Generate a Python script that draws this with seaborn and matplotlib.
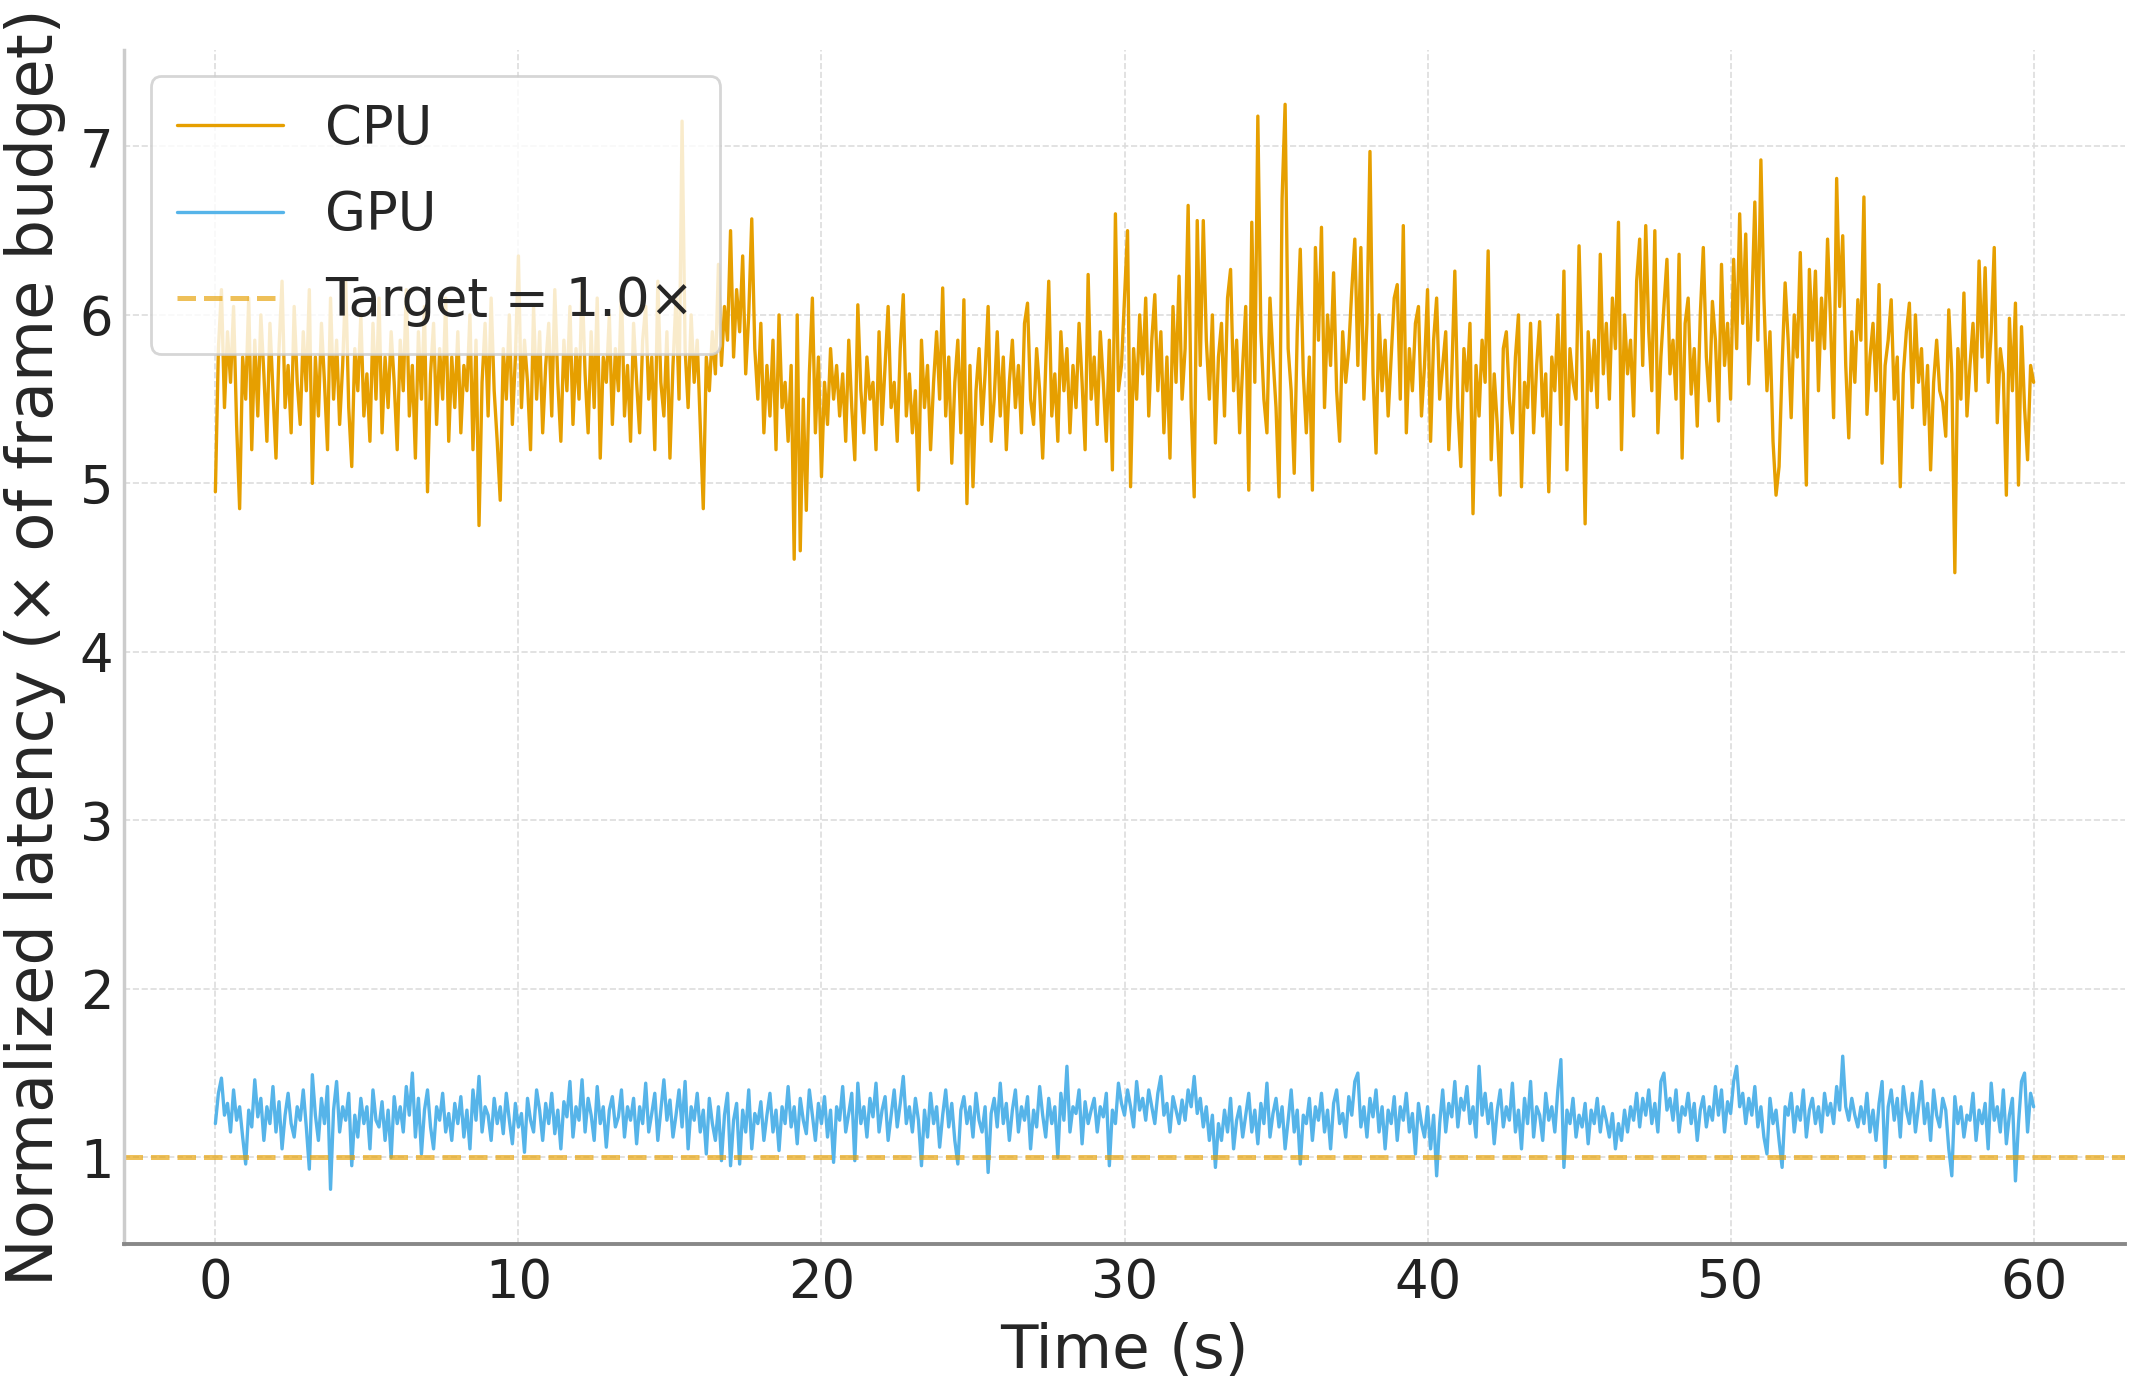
import numpy as np
import pandas as pd
import matplotlib
matplotlib.use("Agg")
import matplotlib.pyplot as plt
import seaborn as sns

# Normalized latency samples, 10 per second (0.0 .. 60.0 s)
cpu_latency = [
    4.95, 5.80, 6.15, 5.45, 5.90, 5.60, 6.05, 5.35, 4.85, 5.75,
    5.50, 6.10, 5.20, 5.85, 5.40, 6.00, 5.65, 5.25, 5.95, 5.55,
    5.15, 5.80, 6.20, 5.45, 5.70, 5.30, 6.05, 5.60, 5.35, 5.90,
    5.55, 6.15, 5.00, 5.75, 5.40, 5.95, 5.60, 5.20, 6.10, 5.50,
    5.85, 5.35, 5.70, 6.20, 5.45, 5.10, 5.80, 5.55, 6.00, 5.40,
    5.65, 5.25, 5.95, 5.50, 6.10, 5.30, 5.75, 5.45, 5.90, 5.60,
    5.20, 5.85, 5.55, 6.15, 5.40, 5.70, 5.15, 5.90, 5.50, 6.05,
    4.95, 5.65, 5.95, 5.35, 5.80, 5.50, 6.10, 5.25, 5.75, 5.45,
    5.90, 5.30, 5.70, 5.55, 6.00, 5.20, 5.85, 4.75, 5.60, 5.95,
    5.40, 6.10, 5.55, 5.25, 4.90, 5.80, 5.50, 6.00, 5.35, 5.75,
    6.35, 5.45, 5.85, 5.60, 5.20, 6.05, 5.50, 5.90, 5.30, 5.70,
    5.95, 5.40, 6.15, 5.60, 5.25, 5.85, 5.55, 6.05, 5.35, 5.80,
    5.50, 6.20, 5.65, 5.30, 5.90, 5.45, 6.10, 5.15, 5.75, 5.60,
    6.00, 5.35, 5.80, 5.55, 6.15, 5.40, 5.70, 5.25, 5.95, 5.60,
    5.30, 5.85, 6.05, 5.50, 5.75, 5.20, 6.20, 5.60, 5.40, 5.90,
    5.15, 5.70, 6.10, 5.50, 7.15, 5.80, 5.45, 6.00, 5.60, 5.85,
    5.35, 4.85, 5.75, 5.55, 5.90, 5.65, 6.30, 5.70, 6.05, 5.85,
    6.50, 5.75, 6.15, 5.90, 6.35, 5.65, 6.00, 6.57, 5.80, 5.50,
    5.95, 5.30, 5.70, 5.40, 5.85, 5.20, 6.00, 5.45, 5.60, 5.25,
    5.70, 4.55, 6.00, 4.60, 5.50, 4.84, 5.65, 6.10, 5.30, 5.75,
    5.04, 5.60, 5.35, 5.80, 5.50, 5.70, 5.40, 5.65, 5.25, 5.85,
    5.45, 5.14, 6.06, 5.55, 5.30, 5.75, 5.50, 5.60, 5.20, 5.90,
    5.35, 5.70, 6.05, 5.45, 5.60, 5.25, 5.80, 6.12, 5.40, 5.65,
    5.30, 5.55, 4.96, 5.85, 5.45, 5.70, 5.20, 5.60, 5.90, 5.50,
    6.16, 5.40, 5.75, 5.12, 5.60, 5.85, 5.30, 6.09, 4.88, 5.70,
    4.98, 5.55, 5.80, 5.35, 5.65, 6.05, 5.25, 5.50, 5.90, 5.40,
    5.75, 5.20, 5.60, 5.85, 5.45, 5.70, 5.30, 5.95, 6.07, 5.50,
    5.35, 5.80, 5.55, 5.15, 5.70, 6.20, 5.40, 5.65, 5.25, 5.90,
    5.55, 5.80, 5.30, 5.70, 5.45, 5.95, 5.60, 5.20, 6.24, 5.50,
    5.75, 5.35, 5.90, 5.60, 5.25, 5.85, 5.08, 6.60, 5.55, 5.70,
    6.10, 6.50, 4.98, 5.80, 5.50, 6.00, 5.65, 6.10, 5.40, 5.85,
    6.12, 5.55, 5.90, 5.30, 5.75, 5.15, 6.05, 5.60, 6.23, 5.50,
    5.80, 6.65, 5.45, 4.92, 6.56, 5.70, 6.56, 5.85, 5.50, 6.00,
    5.24, 5.75, 5.95, 5.40, 6.10, 6.27, 5.55, 5.85, 5.30, 5.70,
    6.05, 4.96, 6.55, 5.60, 7.18, 5.90, 5.50, 5.30, 6.10, 5.75,
    5.45, 4.92, 6.69, 7.25, 5.80, 5.55, 5.06, 5.90, 6.39, 5.65,
    5.30, 5.75, 4.96, 6.40, 5.85, 6.52, 5.45, 6.00, 5.70, 6.25,
    5.55, 5.25, 5.90, 5.60, 5.80, 6.15, 6.45, 5.70, 6.40, 5.50,
    5.95, 6.97, 5.65, 5.18, 6.00, 5.55, 5.85, 5.40, 5.75, 6.10,
    6.18, 5.50, 6.53, 5.30, 5.80, 5.55, 5.95, 6.05, 5.40, 5.70,
    6.15, 5.25, 5.85, 6.10, 5.50, 5.70, 5.90, 5.20, 5.65, 6.26,
    5.45, 5.10, 5.80, 5.55, 5.95, 4.82, 5.70, 5.40, 5.85, 5.60,
    6.38, 5.14, 5.65, 5.35, 4.93, 5.80, 5.90, 5.50, 5.30, 5.75,
    6.00, 4.98, 5.60, 5.45, 5.95, 5.30, 5.70, 5.96, 5.40, 5.65,
    4.95, 5.75, 5.55, 6.00, 5.35, 6.26, 5.08, 5.80, 5.60, 5.50,
    6.41, 5.70, 4.76, 5.90, 5.55, 5.85, 5.45, 6.36, 5.65, 5.95,
    5.50, 6.10, 5.80, 6.55, 5.20, 6.00, 5.65, 5.85, 5.40, 6.20,
    6.45, 5.70, 6.53, 5.90, 5.55, 6.50, 5.30, 5.75, 6.05, 6.33,
    5.65, 5.85, 5.50, 6.36, 5.15, 5.95, 6.10, 5.53, 5.80, 5.34,
    6.00, 6.40, 5.75, 5.49, 6.08, 5.85, 5.37, 6.30, 5.70, 5.95,
    5.50, 6.33, 5.80, 6.60, 5.95, 6.48, 5.59, 6.05, 6.67, 5.85,
    6.92, 6.10, 5.55, 5.90, 5.25, 4.93, 5.10, 5.70, 6.19, 5.85,
    5.39, 6.00, 5.75, 6.37, 5.60, 4.99, 6.27, 5.85, 6.26, 5.55,
    6.10, 5.80, 6.45, 5.95, 5.39, 6.81, 6.05, 6.47, 5.70, 5.27,
    5.90, 5.60, 6.09, 5.85, 6.70, 5.41, 5.75, 5.95, 5.55, 6.18,
    5.12, 5.70, 5.85, 6.09, 5.50, 5.75, 4.98, 5.65, 5.90, 6.07,
    5.45, 6.00, 5.60, 5.80, 5.35, 5.70, 5.08, 5.60, 5.85, 5.55,
    5.48, 5.28, 6.03, 5.65, 4.47, 5.80, 5.50, 6.13, 5.40, 5.70,
    5.95, 5.55, 6.32, 5.75, 6.28, 5.60, 5.90, 6.40, 5.36, 5.80,
    5.65, 4.93, 5.98, 5.55, 6.07, 4.99, 5.93, 5.45, 5.14, 5.70,
    5.60,
]

gpu_latency = [
    1.20, 1.38, 1.47, 1.25, 1.32, 1.15, 1.40, 1.22, 1.30, 1.12,
    0.96, 1.28, 1.18, 1.46, 1.24, 1.35, 1.10, 1.30, 1.20, 1.42,
    1.15, 1.33, 1.05, 1.25, 1.38, 1.20, 1.12, 1.30, 1.22, 1.40,
    1.18, 0.93, 1.49, 1.25, 1.10, 1.35, 1.20, 1.42, 0.81, 1.28,
    1.45, 1.15, 1.30, 1.22, 1.38, 0.95, 1.25, 1.12, 1.35, 1.20,
    1.30, 1.05, 1.40, 1.22, 1.18, 1.33, 1.10, 1.28, 1.00, 1.36,
    1.20, 1.30, 1.15, 1.42, 1.25, 1.50, 1.12, 1.35, 1.02, 1.28,
    1.40, 1.18, 1.05, 1.30, 1.22, 1.38, 1.15, 1.26, 1.10, 1.32,
    1.20, 1.36, 1.12, 1.28, 1.05, 1.40, 1.22, 1.48, 1.15, 1.30,
    1.25, 1.10, 1.35, 1.20, 1.30, 1.14, 1.38, 1.22, 1.08, 1.32,
    1.18, 1.26, 1.03, 1.35, 1.22, 1.15, 1.40, 1.28, 1.10, 1.32,
    1.20, 1.38, 1.14, 1.28, 1.05, 1.33, 1.24, 1.45, 1.12, 1.30,
    1.22, 1.46, 1.15, 1.35, 1.25, 1.10, 1.42, 1.20, 1.30, 1.06,
    1.28, 1.36, 1.18, 1.24, 1.40, 1.12, 1.30, 1.22, 1.35, 1.08,
    1.30, 1.20, 1.44, 1.15, 1.26, 1.38, 1.10, 1.28, 1.46, 1.22,
    1.34, 1.12, 1.25, 1.40, 1.18, 1.45, 1.05, 1.30, 1.22, 1.38,
    1.15, 1.28, 1.02, 1.35, 1.20, 1.10, 1.30, 0.98, 1.25, 1.38,
    0.95, 1.22, 1.32, 0.96, 1.28, 1.15, 1.40, 1.05, 1.26, 1.20,
    1.33, 1.10, 1.25, 1.38, 1.15, 1.28, 1.04, 1.30, 1.20, 1.42,
    1.18, 1.30, 1.08, 1.35, 1.22, 1.14, 1.40, 1.25, 1.10, 1.32,
    1.20, 1.36, 1.12, 1.28, 0.97, 1.30, 1.22, 1.42, 1.15, 1.26,
    1.38, 0.98, 1.44, 1.20, 1.30, 1.12, 1.35, 1.24, 1.44, 1.15,
    1.28, 1.36, 1.10, 1.25, 1.40, 1.18, 1.32, 1.48, 1.20, 1.30,
    1.15, 1.35, 1.22, 0.95, 1.28, 1.12, 1.38, 1.20, 1.30, 1.06,
    1.25, 1.40, 1.18, 1.32, 1.10, 0.96, 1.28, 1.36, 1.20, 1.30,
    1.12, 1.38, 1.22, 1.15, 1.30, 0.91, 1.26, 1.35, 1.18, 1.44,
    1.20, 1.32, 1.10, 1.28, 1.40, 1.15, 1.30, 1.22, 1.36, 1.05,
    1.28, 1.18, 1.42, 1.25, 1.12, 1.35, 1.20, 1.30, 1.00, 1.38,
    1.22, 1.54, 1.15, 1.30, 1.26, 1.40, 1.08, 1.33, 1.20, 1.28,
    1.35, 1.15, 1.30, 1.24, 1.38, 0.95, 1.28, 1.20, 1.44, 1.32,
    1.25, 1.40, 1.30, 1.18, 1.45, 1.28, 1.35, 1.22, 1.40, 1.30,
    1.20, 1.38, 1.48, 1.25, 1.32, 1.15, 1.36, 1.28, 1.20, 1.34,
    1.22, 1.40, 1.30, 1.48, 1.26, 1.35, 1.18, 1.30, 1.10, 1.25,
    0.94, 1.20, 1.10, 1.28, 1.15, 1.35, 1.05, 1.22, 1.30, 1.12,
    1.25, 1.38, 1.15, 1.28, 1.08, 1.32, 1.20, 1.44, 1.12, 1.26,
    1.35, 1.18, 1.30, 1.05, 1.22, 1.40, 1.15, 1.28, 0.96, 1.25,
    1.20, 1.35, 1.10, 1.30, 1.22, 1.38, 1.15, 1.28, 1.05, 1.32,
    1.40, 1.20, 1.26, 1.12, 1.36, 1.25, 1.45, 1.50, 1.18, 1.30,
    1.12, 1.35, 1.24, 1.40, 1.15, 1.30, 1.05, 1.28, 1.20, 1.36,
    1.10, 1.30, 1.22, 1.38, 1.15, 1.26, 1.02, 1.32, 1.20, 1.12,
    1.30, 1.05, 1.25, 0.89, 1.20, 1.40, 1.15, 1.32, 1.24, 1.45,
    1.18, 1.35, 1.28, 1.42, 1.20, 1.30, 1.12, 1.54, 1.25, 1.38,
    1.20, 1.32, 1.08, 1.28, 1.40, 1.18, 1.30, 1.22, 1.44, 1.15,
    1.28, 1.05, 1.35, 1.20, 1.45, 1.12, 1.30, 1.25, 1.10, 1.38,
    1.22, 1.30, 1.15, 1.40, 1.58, 0.94, 1.28, 1.20, 1.35, 1.12,
    1.25, 1.18, 1.32, 1.08, 1.28, 1.20, 1.35, 1.15, 1.30, 1.22,
    1.12, 1.26, 1.05, 1.20, 1.10, 1.28, 1.15, 1.30, 1.22, 1.38,
    1.18, 1.35, 1.25, 1.40, 1.20, 1.32, 1.15, 1.45, 1.50, 1.28,
    1.35, 1.22, 1.40, 1.15, 1.30, 1.25, 1.38, 1.20, 1.32, 1.10,
    1.28, 1.36, 1.18, 1.30, 1.22, 1.42, 1.25, 1.40, 1.15, 1.33,
    1.26, 1.45, 1.54, 1.30, 1.38, 1.20, 1.35, 1.25, 1.42, 1.18,
    1.30, 1.12, 1.02, 1.35, 1.20, 1.28, 1.10, 0.94, 1.30, 1.25,
    1.38, 1.15, 1.30, 1.22, 1.40, 1.12, 1.28, 1.35, 1.20, 1.30,
    1.15, 1.38, 1.25, 1.32, 1.20, 1.42, 1.28, 1.60, 1.30, 1.22,
    1.35, 1.25, 1.18, 1.30, 1.20, 1.38, 1.15, 1.28, 1.10, 1.32,
    1.45, 0.94, 1.30, 1.40, 1.22, 1.35, 1.12, 1.42, 1.28, 1.20,
    1.38, 1.15, 1.30, 1.45, 1.20, 1.32, 1.10, 1.40, 1.25, 1.18,
    1.35, 1.28, 1.05, 0.89, 1.36, 1.20, 1.30, 1.12, 1.25, 1.22,
    1.38, 1.10, 1.28, 1.20, 1.32, 1.05, 1.44, 1.22, 1.30, 1.15,
    1.40, 1.08, 1.25, 1.35, 0.86, 1.20, 1.45, 1.50, 1.15, 1.38,
    1.30,
]

target_budget = 1.0
duration_s = 60.0

assert len(cpu_latency) == len(gpu_latency)
time_s = np.linspace(0.0, duration_s, len(cpu_latency))

df = pd.DataFrame({
    "Time (s)": np.concatenate([time_s, time_s]),
    "latency": cpu_latency + gpu_latency,
    "unit": ["CPU"] * len(cpu_latency) + ["GPU"] * len(gpu_latency),
})

sns.set_theme(style="whitegrid")
plt.rcParams["font.family"] = ["DejaVu Sans"]

fig, ax = plt.subplots(figsize=(10.73, 6.955), dpi=200)
fig.subplots_adjust(left=0.058, right=0.99, top=0.964, bottom=0.106)

colors = {"CPU": "#E69F00", "GPU": "#56B4E9"}
for unit in ["CPU", "GPU"]:
    sns.lineplot(data=df[df["unit"] == unit], x="Time (s)", y="latency",
                 color=colors[unit], linewidth=1.2, label=unit,
                 estimator=None, ax=ax)

ax.axhline(target_budget, color="#E69F00", alpha=0.65, linestyle="--",
           linewidth=1.8, label="Target = 1.0×")

ax.set_xlabel("Time (s)", fontsize=22, labelpad=4.5)
ax.set_ylabel("Normalized latency (× of frame budget)", fontsize=23, labelpad=5)
ax.tick_params(axis="both", labelsize=19, colors="#222222")
ax.tick_params(axis="x", pad=5, direction="in", length=3, width=0.8,
               color="#333333")
ax.tick_params(axis="y", pad=-2)
ax.set_xticks([0, 10, 20, 30, 40, 50, 60])
ax.set_yticks([1, 2, 3, 4, 5, 6, 7])

ax.grid(True, color="#dddddd", linestyle="--", linewidth=0.6)
sns.despine(ax=ax)
ax.spines["left"].set_color("#cccccc")
ax.spines["bottom"].set_color("#888888")
ax.spines["bottom"].set_linewidth(1.4)

ax.legend(loc="upper left", fontsize=19, framealpha=0.8,
          handlelength=2.0, borderpad=0.5, labelspacing=0.65)

fig.savefig("out.png", dpi=200)
